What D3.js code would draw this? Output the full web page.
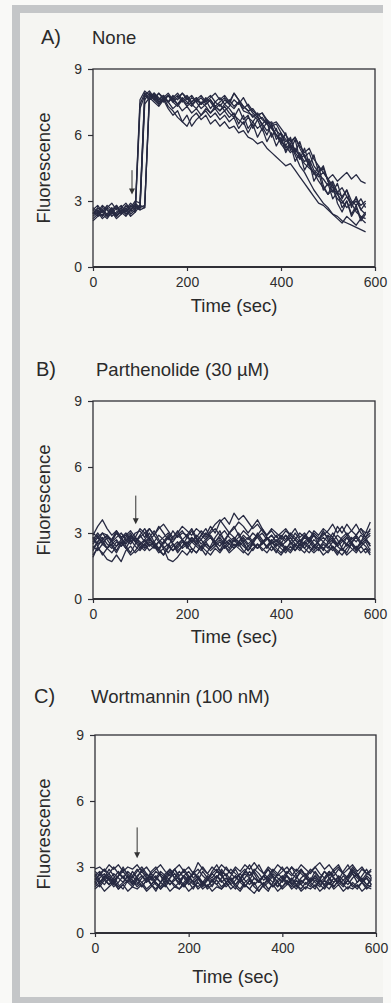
<!DOCTYPE html>
<html lang="en">
<head>
<meta charset="UTF-8">
<title>Fluorescence traces</title>
<style>
  body { margin: 0; background: #f8f8f6; }
  svg { display: block; }
  .tick text { font-family: 'Liberation Sans', Arial, sans-serif; font-size: 14px; fill: #2e2e2e; }
  .tick line { stroke: #2e2e36; stroke-width: 1.2; }
</style>
</head>
<body>
<svg id="chart"></svg>
<script src="https://d3js.org/d3.v7.min.js"></script>
<script>
// x: time in sec (one reading every 10 s), y: fluorescence
const timeStep = 10;
const xTicks = [0, 200, 400, 600];
const yTicks = [0, 3, 6, 9];

// A) None
const tracesA = [
  [2.4,2.6,2.3,2.7,2.5,2.8,2.4,2.6,2.9,2.7, 2.8,7.9,7.7,7.9,7.6,7.8,7.5,7.7,7.4,7.6, 7.3,7.5,7.7,7.4,7.6,7.2,7.5,7.3,7.6,7.4, 7.2,7.5,7.1,7.0,6.9,6.7,6.8,6.5,6.6,6.2, 6.0,5.7,5.8,5.3,5.1,4.8,4.9,4.4,4.2,4.0, 3.7,3.9,3.4,3.2,3.5,3.0,2.8,3.1,2.7],
  [2.5,2.3,2.6,2.4,2.7,2.3,2.6,2.5,2.8,2.6, 7.6,8.0,7.8,7.6,7.9,7.7,7.5,7.8,7.6,7.9, 7.7,7.4,7.6,7.8,7.5,7.7,7.9,7.6,7.8,7.5, 7.9,7.6,7.3,7.1,7.2,6.9,7.0,6.6,6.4,6.5, 6.1,5.8,5.6,5.9,5.4,5.0,5.2,4.6,4.3,4.5, 3.9,3.6,3.3,3.0,2.7,2.9,2.5,2.3,2.2],
  [2.1,2.3,2.4,2.2,2.5,2.3,2.6,2.4,2.5,2.7, 2.6,2.7,7.7,7.5,7.3,7.6,7.2,6.9,7.1,6.6, 6.4,6.8,7.0,6.7,6.9,6.5,6.7,6.4,6.6,6.3, 6.4,6.1,6.2,5.9,5.8,5.6,5.7,5.4,5.2,5.0, 4.8,4.6,4.7,4.4,4.1,3.8,3.5,3.2,2.9,2.8, 2.6,2.4,2.3,2.1,2.0,1.9,1.8,1.7,1.6],
  [2.6,2.8,2.5,2.7,2.9,2.6,2.8,2.5,2.7,3.0, 2.9,7.8,8.0,7.7,7.9,7.6,7.8,7.5,7.7,7.9, 7.6,7.8,7.5,7.7,7.4,7.6,7.3,7.5,7.7,7.4, 7.9,7.6,7.3,7.1,6.8,7.0,6.7,6.5,6.3,6.0, 5.7,5.5,5.2,5.4,5.0,4.7,4.5,4.3,4.1,4.3, 4.0,4.2,3.9,4.1,4.3,4.0,4.2,3.9,3.8],
  [2.3,2.5,2.2,2.4,2.6,2.3,2.5,2.7,2.4,2.6, 7.4,7.9,7.6,7.8,7.5,7.7,7.3,7.1,6.8,6.6, 6.9,6.4,6.7,6.9,7.2,7.0,7.3,7.1,7.4,7.2, 6.9,6.7,6.5,6.8,6.6,6.3,6.5,6.2,6.4,6.0, 5.6,5.3,5.5,5.1,4.6,4.3,3.9,3.5,3.2,2.9, 2.7,2.4,2.2,2.0,2.3,2.1,1.9,2.2,2.0],
  [2.7,2.5,2.8,2.6,2.4,2.7,2.5,2.8,2.6,2.9, 2.7,2.8,7.6,7.8,7.5,7.7,7.9,7.6,7.8,7.5, 7.7,7.4,7.2,7.5,7.3,7.0,7.2,6.9,7.1,6.8, 7.0,6.5,6.9,6.3,6.6,6.9,6.4,6.0,6.5,5.8, 6.1,5.5,5.9,5.2,5.7,5.0,4.6,5.1,4.3,4.6, 3.9,3.4,3.8,3.1,3.5,2.7,3.2,2.6,2.9],
  [2.4,2.7,2.5,2.3,2.6,2.8,2.5,2.3,2.6,2.8, 2.6,7.6,7.9,7.7,7.4,7.6,7.8,7.5,7.3,7.6, 7.4,7.7,7.5,7.2,7.4,7.6,7.3,7.1,7.3,7.0, 6.8,7.2,6.7,6.9,6.3,6.7,6.2,6.6,5.9,6.3, 5.6,6.1,5.3,5.8,4.9,5.4,4.7,4.2,4.6,3.7, 3.3,3.8,2.9,2.5,3.0,2.3,2.7,2.1,2.4],
  [2.5,2.4,2.7,2.6,2.3,2.5,2.7,2.4,2.6,2.5, 7.2,7.8,7.6,7.9,7.7,7.5,7.8,7.6,7.4,7.7, 7.5,7.3,7.6,7.4,7.7,7.5,7.2,7.4,7.1,7.3, 7.6,7.4,7.7,7.3,7.0,6.8,6.5,6.7,6.3,6.0, 5.8,5.4,5.6,5.2,4.9,5.1,4.6,4.3,3.9,3.6, 3.3,3.5,3.1,2.9,3.2,2.8,3.0,2.6,2.4],
  [2.2,2.4,2.6,2.3,2.5,2.2,2.4,2.6,2.3,2.5, 2.8,2.7,7.9,7.6,7.4,7.7,7.5,7.2,7.4,7.1, 7.3,7.0,7.2,6.9,7.1,6.8,7.0,6.7,6.9,6.6, 6.8,6.3,6.6,6.1,6.5,5.9,6.3,5.7,6.1,5.5, 5.9,5.2,5.6,4.8,5.2,4.4,4.8,3.9,4.3,3.5, 3.8,3.1,3.4,2.7,3.0,2.4,2.8,2.2,2.5],
  [2.6,2.4,2.5,2.8,2.6,2.4,2.7,2.9,2.6,2.8, 2.7,7.4,7.7,7.9,7.6,7.8,7.5,7.7,7.9,7.6, 7.8,7.5,7.7,7.4,7.6,7.8,7.5,7.7,7.4,7.6, 7.3,7.5,7.2,7.4,7.1,6.9,7.0,6.7,6.5,6.6, 6.3,6.0,5.7,5.9,5.5,5.2,5.4,4.9,4.6,4.3, 4.0,3.7,3.4,3.6,3.2,2.9,3.1,2.8,3.0]
];

// B) Parthenolide (30 µM)
const tracesB = [
  [2.9,3.3,3.6,3.2,2.9,3.1,2.8,3.0,2.7,3.0, 3.1,2.8,3.2,2.9,3.3,3.0,2.7,3.1,2.8,3.0, 2.9,3.2,2.8,3.1,2.9,3.3,3.0,3.5,3.7,3.4, 3.9,3.6,3.8,3.5,3.2,3.4,3.1,2.9,3.2,3.0, 2.8,3.1,2.9,3.2,2.8,3.0,2.7,3.1,2.9,3.2, 3.0,2.8,3.3,3.0,3.4,3.1,2.9,3.2,3.0,3.1],
  [2.0,2.3,2.1,1.8,1.7,2.0,1.7,2.2,2.4,2.1, 2.3,2.5,2.2,2.4,2.1,2.3,1.8,1.7,1.9,2.2, 2.0,2.3,2.1,2.4,2.2,2.0,2.3,2.1,2.4,2.2, 2.5,2.3,2.1,2.4,2.2,2.5,2.3,2.1,2.4,2.2, 2.0,2.3,2.1,2.4,2.2,2.5,2.3,2.1,2.3,2.0, 2.2,2.4,2.1,2.3,2.0,2.2,2.4,2.1,2.3,2.0],
  [2.6,2.9,2.5,2.8,2.6,3.0,2.7,2.5,2.8,2.6, 2.9,2.6,2.8,3.1,2.7,2.5,2.8,2.6,2.9,2.7, 2.5,2.8,2.6,2.9,2.7,3.0,3.2,2.9,2.7,3.0, 2.8,2.6,2.9,2.7,3.0,2.8,2.5,2.7,2.9,2.6, 2.8,2.6,2.9,2.7,2.5,2.8,2.6,2.9,2.7,3.0, 2.8,2.6,2.9,2.7,2.5,2.8,2.6,2.9,2.7,2.5],
  [1.9,2.4,2.7,2.3,2.5,2.2,2.6,2.3,2.7,2.4, 2.2,2.5,2.8,2.4,2.6,2.3,2.5,2.2,2.4,2.7, 2.3,2.6,2.4,2.2,2.5,2.3,2.6,2.4,2.7,2.5, 2.3,2.6,2.4,2.2,2.5,2.3,2.6,2.4,2.2,2.5, 2.3,2.1,2.4,2.2,2.5,2.3,2.1,2.4,2.2,2.5, 2.3,2.6,2.4,2.2,2.5,2.3,2.1,2.4,2.6,2.2],
  [3.0,2.8,3.0,2.9,2.7,3.0,2.8,2.9,3.1,2.8, 3.2,3.0,2.7,2.9,3.2,3.4,3.1,2.8,3.0,3.3, 3.1,2.9,3.2,3.0,2.8,3.1,3.4,3.6,3.3,3.0, 3.2,3.5,3.3,3.0,3.3,3.6,3.2,2.9,3.1,2.8, 3.0,3.2,2.9,2.7,3.0,2.8,3.1,2.9,2.7,2.9, 3.1,3.4,3.0,3.3,2.9,3.1,3.4,3.0,2.8,3.2],
  [2.4,2.2,2.5,2.3,2.1,2.4,2.6,2.3,2.0,2.2, 2.5,2.3,2.6,2.4,2.2,2.0,2.3,2.5,2.2,2.4, 2.6,2.3,2.1,2.4,2.6,2.3,2.5,2.2,2.4,2.1, 2.3,2.5,2.2,2.0,2.3,2.5,2.2,2.4,2.6,2.3, 2.1,2.4,2.2,2.5,2.3,2.1,2.4,2.2,2.5,2.3, 2.1,2.4,2.2,2.0,2.3,2.5,2.2,2.4,2.1,2.3],
  [2.7,3.0,2.7,2.9,2.6,2.8,3.0,2.7,2.9,2.6, 2.8,3.0,3.2,2.9,2.6,2.8,3.0,2.7,2.9,3.1, 2.8,2.6,2.9,2.7,3.0,2.8,2.6,2.9,3.1,2.8, 2.6,2.8,3.1,2.9,2.6,2.8,3.0,2.7,2.9,2.6, 2.9,2.7,3.0,2.8,2.6,2.9,2.7,3.0,2.8,2.6, 2.9,2.7,2.5,2.8,3.0,2.7,2.9,2.6,2.8,3.0],
  [2.3,2.6,2.8,2.5,2.3,2.6,2.4,2.7,2.5,2.8, 2.6,2.4,2.7,2.5,2.3,2.6,2.8,2.5,2.3,2.6, 2.4,2.7,2.5,2.3,2.6,2.8,2.5,2.7,2.4,2.6, 2.8,2.5,2.7,2.4,2.6,2.3,2.5,2.8,2.6,2.4, 2.6,2.3,2.5,2.7,2.4,2.6,2.8,2.5,2.3,2.6, 2.4,2.2,2.5,2.7,2.4,2.6,2.3,2.5,2.7,2.4],
  [2.8,2.5,2.7,2.9,2.6,2.4,2.7,2.9,2.6,2.8, 2.5,2.7,2.4,2.6,2.9,2.7,2.4,2.2,2.5,2.7, 2.9,2.6,2.8,2.5,2.7,2.9,2.6,2.8,2.5,2.7, 2.4,2.6,2.8,2.5,2.7,2.9,2.6,2.4,2.7,2.5, 2.7,2.9,2.6,2.4,2.7,2.5,2.7,2.4,2.6,2.8, 2.6,2.8,2.5,2.7,2.9,2.6,2.8,2.5,2.7,2.9],
  [2.5,2.8,2.6,2.3,2.5,2.7,2.4,2.6,2.9,2.7, 2.4,2.2,2.5,2.3,2.6,2.4,2.1,2.4,2.6,2.3, 2.5,2.8,2.5,2.7,2.4,2.2,2.4,2.6,2.3,2.5, 2.7,2.4,2.6,2.8,2.5,2.3,2.6,2.8,2.5,2.7, 2.4,2.6,2.8,2.5,2.3,2.6,2.4,2.7,2.5,2.3, 2.5,2.7,2.4,2.6,2.8,2.5,2.3,2.6,2.4,2.1],
  [2.2,2.6,3.0,2.7,2.4,2.1,2.5,2.8,3.0,2.6, 2.3,2.7,3.0,2.6,2.3,2.0,2.4,2.8,3.1,2.7, 2.4,2.1,2.5,2.9,3.2,2.8,2.5,2.2,2.6,3.0, 3.3,2.9,2.5,2.2,2.6,3.0,2.7,2.3,2.6,2.9, 2.5,2.2,2.6,3.0,2.7,2.3,2.6,2.9,2.5,2.2, 2.6,3.0,2.7,2.3,2.1,2.5,2.9,3.2,2.8,2.4],
  [2.8,2.4,2.0,2.3,2.7,3.1,2.8,2.4,2.1,2.5, 2.9,3.2,2.8,2.5,2.2,2.6,2.9,2.5,2.1,2.4, 2.8,3.1,2.7,2.3,2.0,2.4,2.8,3.1,2.6,2.3, 2.7,3.0,2.6,2.2,2.5,2.9,3.2,2.8,2.4,2.1, 2.5,2.9,2.6,2.2,2.5,2.9,2.6,2.3,2.7,3.1, 2.7,2.3,2.0,2.4,2.8,2.5,2.2,2.6,3.0,3.5]
];

// C) Wortmannin (100 nM)
const tracesC = [
  [2.9,3.0,2.8,3.1,2.9,3.1,2.8,3.0,2.9,3.1, 2.8,3.0,2.7,2.9,3.1,2.8,2.6,2.9,3.1,2.8, 3.0,2.7,3.2,2.9,2.7,3.0,2.8,3.1,2.9,2.7, 3.0,2.8,3.1,2.9,3.2,2.9,2.7,3.0,2.8,3.1, 2.9,2.7,3.0,2.8,3.1,2.9,2.7,3.0,3.2,2.9, 3.1,2.8,3.0,2.7,2.9,3.1,2.8,3.0,2.7,2.9],
  [2.0,2.2,1.9,2.1,2.3,2.0,2.2,1.9,2.1,2.0, 2.2,1.9,2.1,2.3,2.0,2.2,1.9,2.1,2.0,2.2, 1.9,2.1,2.3,2.0,2.2,1.9,2.1,2.0,2.2,2.4, 2.1,1.9,2.2,2.0,1.8,2.1,2.3,2.0,2.2,1.9, 2.1,2.3,2.0,2.2,1.9,2.1,2.0,2.2,1.9,2.1, 2.3,2.0,2.2,1.9,2.1,2.0,2.2,1.9,2.1,2.0],
  [2.5,2.3,2.6,2.4,2.7,2.5,2.3,2.6,2.4,2.2, 2.5,2.7,2.4,2.6,2.3,2.5,2.8,2.5,2.3,2.6, 2.4,2.7,2.5,2.3,2.6,2.4,2.2,2.5,2.7,2.4, 2.6,2.3,2.5,2.8,2.5,2.3,2.6,2.4,2.7,2.5, 2.3,2.6,2.4,2.2,2.5,2.7,2.4,2.6,2.3,2.5, 2.8,2.5,2.3,2.6,2.4,2.7,2.5,2.3,2.6,2.4],
  [2.7,2.4,2.2,2.5,2.3,2.6,2.8,2.5,2.3,2.6, 2.8,2.5,2.2,2.4,2.7,2.5,2.2,2.4,2.6,2.9, 2.6,2.3,2.5,2.2,2.4,2.7,2.9,2.6,2.3,2.5, 2.2,2.4,2.7,2.5,2.2,2.4,2.6,2.9,2.6,2.3, 2.5,2.2,2.4,2.7,2.9,2.6,2.3,2.5,2.2,2.4, 2.7,2.5,2.2,2.4,2.6,2.9,2.6,2.3,2.5,2.2],
  [2.2,2.5,2.7,2.4,2.1,2.3,2.6,2.3,2.1,2.4, 2.6,2.3,2.5,2.2,2.0,2.3,2.5,2.7,2.4,2.2, 2.5,2.3,2.0,2.2,2.5,2.3,2.6,2.4,2.1,2.3, 2.6,2.3,2.1,2.4,2.1,1.9,2.2,2.5,2.3,2.1, 2.4,2.6,2.3,2.1,2.4,2.2,2.5,2.3,2.1,2.4, 2.2,2.5,2.3,2.1,2.4,2.2,2.0,2.3,2.5,2.2],
  [2.6,2.8,2.5,2.7,3.0,2.7,2.5,2.8,2.6,2.9, 2.6,2.4,2.7,2.5,2.8,2.6,2.9,2.7,2.4,2.6, 2.8,2.5,2.7,3.0,2.7,2.5,2.8,2.6,3.0,2.7, 2.5,2.7,2.9,2.6,2.8,3.1,2.7,2.5,2.8,2.6, 2.8,3.0,2.7,2.5,2.8,2.6,2.9,2.7,2.5,2.8, 2.6,2.9,3.1,2.7,2.5,2.8,2.6,2.9,2.7,2.6],
  [2.3,2.1,2.4,2.6,2.3,2.0,2.2,2.4,2.2,2.5, 2.3,2.0,2.2,2.5,2.3,2.1,2.4,2.2,2.0,2.3, 2.6,2.3,2.1,2.3,2.0,2.2,2.4,2.1,2.3,2.0, 2.2,2.5,2.2,2.0,2.3,1.9,2.2,2.4,2.1,2.3, 2.0,2.2,2.5,2.2,2.0,2.3,2.1,2.4,2.2,2.0, 2.3,2.1,2.4,2.2,2.0,2.3,2.1,2.3,2.0,2.2],
  [2.8,2.6,2.9,2.7,2.4,2.6,2.9,2.7,2.5,2.8, 3.0,2.7,2.5,2.8,2.6,2.4,2.7,2.9,2.6,2.8, 2.5,2.7,2.9,2.6,2.4,2.7,2.5,2.8,2.6,2.9, 2.7,2.5,2.8,2.6,2.9,2.7,2.4,2.6,2.9,2.7, 2.5,2.8,2.6,2.9,2.7,2.5,2.8,3.0,2.7,2.5, 2.8,2.6,2.9,2.7,2.5,2.8,2.6,2.4,2.7,2.8],
  [2.4,2.7,2.4,2.2,2.5,2.8,2.5,2.3,2.6,2.3, 2.1,2.4,2.6,2.3,2.1,2.4,2.2,2.5,2.8,2.5, 2.2,2.4,2.6,2.3,2.1,2.4,2.6,2.3,2.5,2.2, 2.4,2.7,2.4,2.2,2.5,2.3,2.6,2.3,2.1,2.4, 2.6,2.3,2.1,2.4,2.2,2.5,2.3,2.6,2.4,2.2, 2.5,2.3,2.6,2.4,2.2,2.5,2.7,2.4,2.2,2.4],
  [2.1,2.3,2.5,2.2,2.4,2.1,2.3,2.6,2.4,2.1, 2.3,2.5,2.2,2.0,2.3,2.6,2.4,2.1,2.3,2.1, 2.4,2.2,2.5,2.3,2.1,2.4,2.2,2.0,2.3,2.5, 2.2,2.0,2.3,2.5,2.2,2.4,2.1,2.3,2.6,2.3, 2.1,2.4,2.2,2.0,2.3,2.5,2.3,2.1,2.4,2.2, 2.0,2.3,2.5,2.2,2.4,2.1,2.3,2.5,2.2,2.1],
  [2.6,2.2,2.5,2.9,2.6,2.2,2.0,2.4,2.8,2.5, 2.1,2.4,2.8,3.0,2.6,2.2,2.5,2.9,2.5,2.1, 2.4,2.8,2.5,2.1,2.4,2.8,3.1,2.7,2.3,2.6, 2.9,2.5,2.1,2.4,2.8,2.5,2.1,1.9,2.3,2.7, 3.0,2.6,2.2,2.5,2.9,2.6,2.2,2.0,2.4,2.8, 2.5,2.1,2.4,2.8,3.1,2.7,2.3,2.6,2.9,2.5],
  [2.3,2.7,2.9,2.5,2.2,2.6,3.0,2.6,2.2,2.5, 2.9,2.6,2.2,1.9,2.3,2.7,2.9,2.5,2.2,2.6, 2.3,2.0,2.4,2.8,2.5,2.1,2.5,2.9,2.6,2.2, 2.0,2.4,2.8,3.1,2.7,2.3,2.6,2.9,2.5,2.1, 2.4,2.7,3.0,2.6,2.2,2.0,2.4,2.8,2.5,2.1, 2.4,2.8,2.5,2.2,2.6,3.0,2.7,2.3,2.1,2.5]
];

// arrow: [time, start value, end value]
const arrowA = [83, 4.4, 3.3];
const arrowB = [91, 4.7, 3.4];
const arrowC = [90, 4.8, 3.4];

const panels = [
  { letter: 'A)', title: 'None', traces: tracesA, arrow: arrowA, top: 69, left: 93, right: 375, letterX: 41, titleX: 92, titleY: 44, xlabY: 312 },
  { letter: 'B)', title: 'Parthenolide (30 µM)', traces: tracesB, arrow: arrowB, top: 401, left: 93, right: 375, letterX: 36, titleX: 96, titleY: 376, xlabY: 643 },
  { letter: 'C)', title: 'Wortmannin (100 nM)', traces: tracesC, arrow: arrowC, top: 735, left: 95, right: 376, letterX: 34, titleX: 91, titleY: 703, xlabY: 983 }
];

const W = 391, H = 1003;
const plotH = 198;
const font = "'Liberation Sans', Arial, sans-serif";
const ink = '#272a42';

const svg = d3.select('#chart').attr('width', W).attr('height', H);

// page + grey frame
svg.append('rect').attr('width', W).attr('height', H).attr('fill', '#f9f9f7');
svg.append('rect').attr('x', 20).attr('y', 13).attr('width', 363).attr('height', 984).attr('fill', '#f5f5f2');
const frame = '#c4c6c8';
svg.append('rect').attr('x', 12).attr('y', 5).attr('width', 371).attr('height', 8).attr('fill', frame);
svg.append('rect').attr('x', 12).attr('y', 5).attr('width', 8).attr('height', 998).attr('fill', frame);
svg.append('rect').attr('x', 12).attr('y', 997).attr('width', 371).attr('height', 6).attr('fill', frame);

function drawPanel(p) {
  const g = svg.append('g');
  const x = d3.scaleLinear().domain([0, 600]).range([p.left, p.right]);
  const y = d3.scaleLinear().domain([0, 9]).range([p.top + plotH, p.top]);

  // traces
  const line = d3.line()
    .x((d, i) => x(i * timeStep))
    .y(d => y(d));
  g.append('g')
    .selectAll('path')
    .data(p.traces)
    .join('path')
    .attr('fill', 'none')
    .attr('stroke', ink)
    .attr('stroke-width', 1.3)
    .attr('stroke-linejoin', 'round')
    .attr('d', line);

  // plot box
  g.append('rect')
    .attr('x', x(0)).attr('y', y(9))
    .attr('width', x(600) - x(0)).attr('height', y(0) - y(9))
    .attr('fill', 'none').attr('stroke', '#303036').attr('stroke-width', 1.3);
  g.append('line')
    .attr('x1', x(0)).attr('x2', x(600)).attr('y1', y(0)).attr('y2', y(0))
    .attr('stroke', '#303036').attr('stroke-width', 2);

  // axes
  const yAxis = g.append('g')
    .attr('transform', `translate(${x(0)},0)`)
    .call(d3.axisLeft(y).tickValues(yTicks).tickSize(5).tickPadding(6));
  yAxis.select('.domain').remove();
  const xAxis = g.append('g')
    .attr('transform', `translate(0,${y(0)})`)
    .call(d3.axisBottom(x).tickValues(xTicks).tickSize(4).tickPadding(6));
  xAxis.select('.domain').remove();

  // arrow
  const [at, a0, a1] = p.arrow;
  g.append('line')
    .attr('x1', x(at)).attr('x2', x(at))
    .attr('y1', y(a0)).attr('y2', y(a1) - 5)
    .attr('stroke', '#333').attr('stroke-width', 1);
  g.append('path')
    .attr('d', `M${x(at) - 3},${y(a1) - 6}L${x(at) + 3},${y(a1) - 6}L${x(at)},${y(a1)}Z`)
    .attr('fill', '#333');

  // labels
  g.append('text')
    .attr('x', p.letterX).attr('y', p.titleY)
    .attr('font-family', font).attr('font-size', 20).attr('fill', '#2a2a2a')
    .text(p.letter);
  g.append('text')
    .attr('x', p.titleX).attr('y', p.titleY)
    .attr('font-family', font).attr('font-size', 18.5).attr('fill', '#2a2a2a')
    .text(p.title);
  g.append('text')
    .attr('x', (x(0) + x(600)) / 2).attr('y', p.xlabY)
    .attr('text-anchor', 'middle')
    .attr('font-family', font).attr('font-size', 18.5).attr('fill', '#2a2a2a')
    .text('Time (sec)');
  g.append('text')
    .attr('transform', `translate(50,${(y(0) + y(9)) / 2}) rotate(-90)`)
    .attr('text-anchor', 'middle')
    .attr('font-family', font).attr('font-size', 18.5).attr('fill', '#2a2a2a')
    .text('Fluorescence');
}

panels.forEach(drawPanel);
</script>
</body>
</html>
